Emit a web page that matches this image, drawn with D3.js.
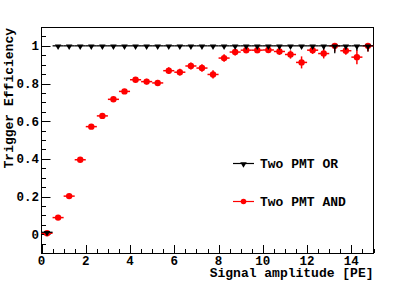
<!DOCTYPE html>
<html>
<head>
<meta charset="utf-8">
<script src="https://cdn.jsdelivr.net/npm/d3@7"></script>
<style>
  body { margin:0; background:#fff; }
  text { font-family:"Liberation Mono","DejaVu Sans Mono",monospace; font-weight:bold; fill:#000; }
</style>
</head>
<body>
<div id="box"></div>
<script>
// bin centres (bin width 0.5 PE)
var binCenters = [0.25,0.75,1.25,1.75,2.25,2.75,3.25,3.75,4.25,4.75,
                  5.25,5.75,6.25,6.75,7.25,7.75,8.25,8.75,9.25,9.75,
                  10.25,10.75,11.25,11.75,12.25,12.75,13.25,13.75,14.25,14.75];

var orValues = [0.01,1,1,1,1,1,1,1,1,1,
                1,1,1,1,1,1,1,1,1,1,
                1,1,1,1,1,1,1,1,1,1];
var orErrLow = [0.005,0,0,0,0,0,0,0,0,0,
                0,0,0,0,0,0,0,0,0,0.005,
                0.01,0.015,0.012,0.01,0.015,0.02,0.04,0.02,0.025,0.03];

var andValues = [0.005,0.088,0.202,0.395,0.571,0.628,0.716,0.758,0.82,0.81,
                 0.803,0.868,0.86,0.893,0.882,0.848,0.935,0.967,0.977,0.977,
                 0.978,0.970,0.954,0.912,0.977,0.959,1.0,0.974,0.94,1.0];
var andErr = [0.008,0.01,0.011,0.012,0.012,0.012,0.012,0.013,0.014,0.015,
              0.016,0.018,0.018,0.019,0.02,0.022,0.02,0.018,0.016,0.016,
              0.016,0.018,0.022,0.032,0.02,0.026,0.03,0.022,0.038,0.03];

var xTicks = [0,2,4,6,8,10,12,14];
var yTicks = [0,0.2,0.4,0.6,0.8,1];
var legendLabels = ["Two PMT OR","Two PMT AND"];

var width = 415, height = 281;
var fLeft = 41.5, fRight = 373.5, fTop = 27, fBottom = 253;

var svg = d3.select("#box").append("svg").attr("width",width).attr("height",height);

var x = d3.scaleLinear().domain([0,15]).range([fLeft,fRight]);
var y = d3.scaleLinear().domain([-0.1,1.1]).range([fBottom,fTop]);

// ticks (drawn inside the frame, ROOT style)
var minorX = d3.range(0,15.01,0.5);
var minorY = d3.range(-0.1,1.101,0.05);

svg.append("g").selectAll("line").data(minorX).enter().append("line")
  .attr("x1",function(d){return Math.round(x(d))+0.5;}).attr("x2",function(d){return Math.round(x(d))+0.5;})
  .attr("y1",fBottom).attr("y2",function(d){ return Math.abs(d/2-Math.round(d/2))<1e-6 ? fBottom-8 : fBottom-4; })
  .attr("stroke","#000").attr("stroke-width",1);

svg.append("g").selectAll("line").data(minorY).enter().append("line")
  .attr("y1",function(d){return Math.round(y(d))+0.5;}).attr("y2",function(d){return Math.round(y(d))+0.5;})
  .attr("x1",fLeft).attr("x2",function(d){ var v=d/0.2; return Math.abs(v-Math.round(v))<1e-6 ? fLeft+9 : fLeft+4.5; })
  .attr("stroke","#000").attr("stroke-width",1);

// frame
svg.append("rect").attr("x",fLeft).attr("y",fTop+0.5).attr("width",fRight-fLeft).attr("height",fBottom-fTop)
  .attr("fill","none").attr("stroke","#000").attr("stroke-width",1);

// tick labels
svg.append("g").selectAll("text").data(xTicks).enter().append("text")
  .attr("x",function(d){return x(d);}).attr("y",265)
  .attr("text-anchor","middle").attr("font-size","12.5px")
  .text(function(d){return d;});

svg.append("g").selectAll("text").data(yTicks).enter().append("text")
  .attr("x",39).attr("y",function(d){return y(d);}).attr("dy","0.36em")
  .attr("text-anchor","end").attr("font-size","12.5px")
  .text(function(d){return d;});

// axis titles
svg.append("text").attr("x",fRight).attr("y",276.5).attr("text-anchor","end")
  .attr("font-size","13px").text("Signal amplitude [PE]");
svg.append("text").attr("transform","translate(13,"+(fTop+1)+") rotate(-90)")
  .attr("text-anchor","end").attr("font-size","13px").text("Trigger Efficiency");

var tri = d3.symbol().type(d3.symbolTriangle).size(18);
var andData = binCenters.map(function(c,i){ return {x:c, v:andValues[i], e:andErr[i]}; });
var orData = binCenters.map(function(c,i){ return {x:c, v:orValues[i], lo:orErrLow[i]}; });

// AND series (red)
var gAnd = svg.append("g");
gAnd.selectAll(".ex").data(andData).enter().append("line")
  .attr("x1",function(d){return x(d.x-0.25);}).attr("x2",function(d){return x(d.x+0.25);})
  .attr("y1",function(d){return y(d.v);}).attr("y2",function(d){return y(d.v);})
  .attr("stroke","#ff0000").attr("stroke-width",1.5);
gAnd.selectAll(".ey").data(andData).enter().append("line")
  .attr("x1",function(d){return x(d.x);}).attr("x2",function(d){return x(d.x);})
  .attr("y1",function(d){return y(Math.min(d.v+d.e,1));}).attr("y2",function(d){return y(d.v-d.e);})
  .attr("stroke","#ff0000").attr("stroke-width",1.5);
gAnd.selectAll("circle").data(andData).enter().append("circle")
  .attr("cx",function(d){return x(d.x);}).attr("cy",function(d){return y(d.v);})
  .attr("r",3.2).attr("fill","#ff0000");

// OR series (black)
var gOr = svg.append("g");
gOr.selectAll(".ex").data(orData).enter().append("line")
  .attr("x1",function(d){return x(d.x-0.25);}).attr("x2",function(d){return x(d.x+0.25);})
  .attr("y1",function(d){return y(d.v);}).attr("y2",function(d){return y(d.v);})
  .attr("stroke","#000").attr("stroke-width",1.3);
gOr.selectAll(".ey").data(orData.filter(function(d){return d.lo>0;})).enter().append("line")
  .attr("x1",function(d){return x(d.x);}).attr("x2",function(d){return x(d.x);})
  .attr("y1",function(d){return y(d.v);}).attr("y2",function(d){return y(d.v-d.lo);})
  .attr("stroke","#000").attr("stroke-width",1.3);
gOr.selectAll("path").data(orData).enter().append("path")
  .attr("d",tri)
  .attr("transform",function(d){return "translate("+x(d.x)+","+(y(d.v)+0.5)+") rotate(180)";})
  .attr("fill","#000");

// legend
var legY = [163.5,201.5];
var legColors = ["#000","#ff0000"];
var leg = svg.append("g").selectAll("g").data(legendLabels).enter().append("g")
  .attr("transform",function(d,i){return "translate(0,"+legY[i]+")";});
leg.append("line").attr("x1",233).attr("x2",254).attr("y1",0).attr("y2",0)
  .attr("stroke",function(d,i){return legColors[i];}).attr("stroke-width",1.2);
leg.each(function(d,i){
  var g = d3.select(this);
  if(i===0){
    g.append("path").attr("d",tri).attr("transform","translate(243.5,0.5) rotate(180)").attr("fill","#000");
  } else {
    g.append("circle").attr("cx",243.5).attr("cy",0).attr("r",2.8).attr("fill","#ff0000");
  }
});
leg.append("text").attr("x",260).attr("y",0).attr("dy","0.36em").attr("font-size","13px")
  .text(function(d){return d;});
</script>
</body>
</html>
